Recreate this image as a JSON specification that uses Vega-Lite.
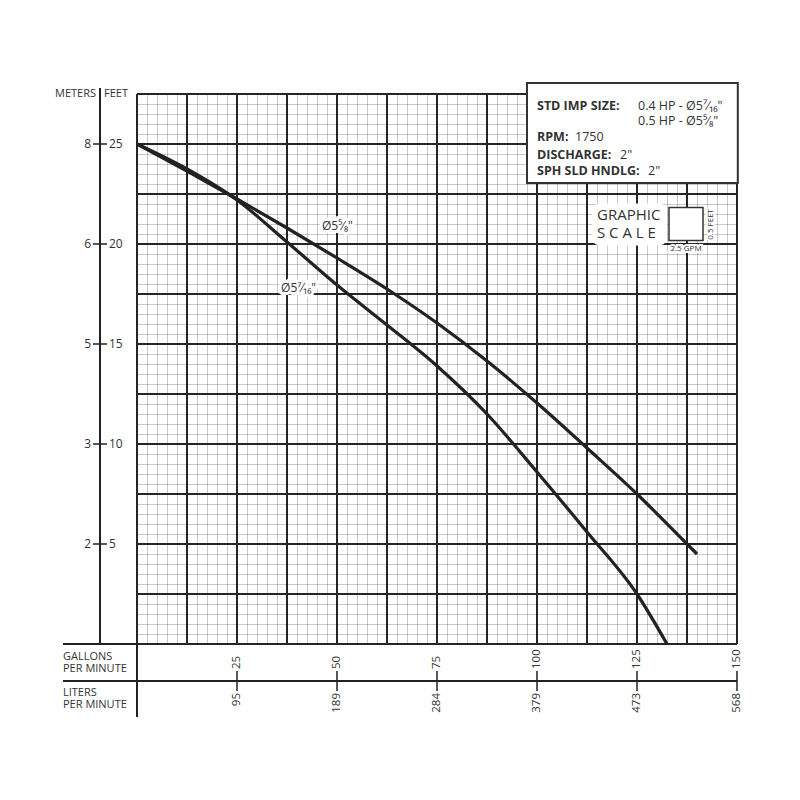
{
  "$schema": "https://vega.github.io/schema/vega-lite/v6.json",
  "width": 600,
  "height": 550,
  "autosize": {"type": "none"},
  "padding": {"left": 137, "top": 94, "right": 63, "bottom": 156},
  "background": "white",
  "config": {
    "view": {"stroke": null},
    "font": "Open Sans, DejaVu Sans",
    "text": {"font": "Open Sans, DejaVu Sans"}
  },
  "datasets": {
    "curves": [
      {"curve": "5 5/8", "gpm": 0, "ft": 25},
      {"curve": "5 5/8", "gpm": 12.5, "ft": 23.65},
      {"curve": "5 5/8", "gpm": 25, "ft": 22.25},
      {"curve": "5 5/8", "gpm": 37.5, "ft": 20.8},
      {"curve": "5 5/8", "gpm": 50, "ft": 19.3},
      {"curve": "5 5/8", "gpm": 62.5, "ft": 17.75},
      {"curve": "5 5/8", "gpm": 75, "ft": 16.05},
      {"curve": "5 5/8", "gpm": 87.5, "ft": 14.15},
      {"curve": "5 5/8", "gpm": 100, "ft": 12.05},
      {"curve": "5 5/8", "gpm": 112.5, "ft": 9.8},
      {"curve": "5 5/8", "gpm": 125, "ft": 7.5},
      {"curve": "5 5/8", "gpm": 137.5, "ft": 5.0},
      {"curve": "5 5/8", "gpm": 140, "ft": 4.5},
      {"curve": "5 7/16", "gpm": 0, "ft": 25},
      {"curve": "5 7/16", "gpm": 12.5, "ft": 23.75},
      {"curve": "5 7/16", "gpm": 25, "ft": 22.2},
      {"curve": "5 7/16", "gpm": 37.5, "ft": 20.1},
      {"curve": "5 7/16", "gpm": 50, "ft": 17.95},
      {"curve": "5 7/16", "gpm": 62.5, "ft": 15.95},
      {"curve": "5 7/16", "gpm": 75, "ft": 13.9},
      {"curve": "5 7/16", "gpm": 87.5, "ft": 11.5},
      {"curve": "5 7/16", "gpm": 100, "ft": 8.6},
      {"curve": "5 7/16", "gpm": 112.5, "ft": 5.6},
      {"curve": "5 7/16", "gpm": 125, "ft": 2.5},
      {"curve": "5 7/16", "gpm": 132.5, "ft": 0}
    ]
  },
  "layer": [
    {
      "data": {"name": "curves"},
      "mark": {"type": "line", "interpolate": "monotone", "color": "#222", "strokeWidth": 3.2},
      "encoding": {
        "x": {"field": "gpm", "type": "quantitative", "scale": {"domain": [0, 150], "nice": false, "zero": false},
          "axis": {"orient": "bottom", "values": [0,2.5,5,7.5,10,12.5,15,17.5,20,22.5,25,27.5,30,32.5,35,37.5,40,42.5,45,47.5,50,52.5,55,57.5,60,62.5,65,67.5,70,72.5,75,77.5,80,82.5,85,87.5,90,92.5,95,97.5,100,102.5,105,107.5,110,112.5,115,117.5,120,122.5,125,127.5,130,132.5,135,137.5,140,142.5,145,147.5,150],
            "grid": true, "gridColor": "#000", "gridOpacity": 0.21, "gridWidth": 1, "labels": false, "ticks": false, "domain": false, "title": null}},
        "y": {"field": "ft", "type": "quantitative", "scale": {"domain": [0, 27.5], "nice": false, "zero": false},
          "axis": {"orient": "left", "values": [0,0.5,1,1.5,2,2.5,3,3.5,4,4.5,5,5.5,6,6.5,7,7.5,8,8.5,9,9.5,10,10.5,11,11.5,12,12.5,13,13.5,14,14.5,15,15.5,16,16.5,17,17.5,18,18.5,19,19.5,20,20.5,21,21.5,22,22.5,23,23.5,24,24.5,25,25.5,26,26.5,27,27.5],
            "grid": true, "gridColor": "#000", "gridOpacity": 0.21, "gridWidth": 1, "labels": false, "ticks": false, "domain": false, "title": null}},
        "detail": {"field": "curve"}
      }
    },
    {
      "data": {"values": [{}]},
      "mark": {"type": "rule", "color": "#222", "strokeWidth": 2},
      "encoding": {
        "x": {"datum": -18.5, "type": "quantitative", "scale": {"domain": [0, 150], "nice": false, "zero": false},
          "axis": {"orient": "bottom", "values": [0,12.5,25,37.5,50,62.5,75,87.5,100,112.5,125,137.5,150], "grid": true, "gridColor": "#262626", "gridWidth": 2, "labels": false, "ticks": false, "domain": false, "title": null, "translate": 0}},
        "x2": {"datum": 0},
        "y": {"datum": 0, "type": "quantitative", "scale": {"domain": [0, 27.5], "nice": false, "zero": false},
          "axis": {"orient": "left", "values": [0,2.5,5,7.5,10,12.5,15,17.5,20,22.5,25,27.5], "grid": true, "gridColor": "#262626", "gridWidth": 2, "labels": false, "ticks": false, "domain": false, "title": null, "translate": 0}}
      }
    },
    {
      "data": {"values": [{}]},
      "mark": {"type": "rule", "color": "#222", "strokeWidth": 2},
      "encoding": {
        "x": {"datum": -18.5, "type": "quantitative", "scale": {"domain": [0, 150], "nice": false, "zero": false},
          "axis": {"orient": "top", "offset": -587, "translate": 0, "values": [25,50,75,100,125,150], "grid": false, "domain": false,
            "ticks": true, "tickSize": 10, "tickWidth": 1.5, "tickColor": "#222",
            "labels": true, "labelAngle": -90, "labelAlign": "left", "labelBaseline": "middle", "labelPadding": 2, "labelFontSize": 11.5, "labelColor": "#333", "labelFont": "Open Sans",
            "title": ["GALLONS", "PER MINUTE"], "titleAngle": 0, "titleX": -74, "titleY": -30, "titleAlign": "left", "titleBaseline": "top", "titleFontSize": 11, "titleFontWeight": "normal", "titleColor": "#333", "titleLineHeight": 12, "titleFont": "Open Sans"}},
        "x2": {"datum": 0},
        "y": {"datum": -1.85, "type": "quantitative", "scale": {"domain": [0, 27.5], "nice": false, "zero": false},
          "axis": {"orient": "left", "offset": 37, "translate": 0, "values": [5,10,15,20,25], "grid": false,
            "domain": true, "domainColor": "#222", "domainWidth": 2,
            "ticks": true, "tickSize": 7, "tickWidth": 1.5, "tickColor": "#222",
            "labels": true, "labelExpr": "datum.value==25?'8':datum.value==20?'6':datum.value==15?'5':datum.value==10?'3':'2'", "labelPadding": 2, "labelFontSize": 12, "labelColor": "#333", "labelFont": "Open Sans",
            "title": "METERS", "titleAngle": 0, "titleX": -4, "titleY": 0, "titleAlign": "right", "titleBaseline": "middle", "titleFontSize": 11, "titleFontWeight": "normal", "titleColor": "#333", "titleFont": "Open Sans"}}
      }
    },
    {
      "data": {"values": [{}]},
      "mark": {"type": "rule", "color": "#222", "strokeWidth": 2},
      "encoding": {
        "x": {"datum": 0, "type": "quantitative", "scale": {"domain": [0, 150], "nice": false, "zero": false},
          "axis": {"orient": "bottom", "offset": 37, "translate": 0, "values": [25,50,75,100,125,150], "grid": false,
            "domain": true, "domainColor": "#222", "domainWidth": 2,
            "ticks": true, "tickSize": 10, "tickWidth": 1.5, "tickColor": "#222",
            "labels": true, "labelExpr": "format(datum.value*3.78541,'.0f')", "labelAngle": -90, "labelAlign": "right", "labelBaseline": "middle", "labelPadding": 2, "labelFontSize": 11.5, "labelColor": "#333", "labelFont": "Open Sans",
            "title": ["LITERS", "PER MINUTE"], "titleAngle": 0, "titleX": -74, "titleY": 6, "titleAlign": "left", "titleBaseline": "top", "titleFontSize": 11, "titleFontWeight": "normal", "titleColor": "#333", "titleLineHeight": 12, "titleFont": "Open Sans"}},
        "y": {"datum": 0, "type": "quantitative", "scale": {"domain": [0, 27.5], "nice": false, "zero": false},
          "axis": {"orient": "right", "offset": -637, "translate": 0, "values": [5,10,15,20,25], "grid": false, "domain": false,
            "ticks": true, "tickSize": 7, "tickWidth": 1.5, "tickColor": "#222",
            "labels": true, "labelPadding": 2, "labelFontSize": 12, "labelColor": "#333", "labelFont": "Open Sans",
            "title": "FEET", "titleAngle": 0, "titleX": 4, "titleY": 0, "titleAlign": "left", "titleBaseline": "middle", "titleFontSize": 11, "titleFontWeight": "normal", "titleColor": "#333", "titleFont": "Open Sans"}},
        "y2": {"datum": -3.65}
      }
    },
    {
      "data": {"values": [{}]},
      "mark": {"type": "rule", "color": "#222", "strokeWidth": 2},
      "encoding": {
        "x": {"datum": -9.25, "type": "quantitative", "scale": {"domain": [0, 150], "nice": false, "zero": false}, "axis": null},
        "y": {"datum": 27.5, "type": "quantitative", "scale": {"domain": [0, 27.5], "nice": false, "zero": false}, "axis": null},
        "y2": {"datum": 27.8}
      }
    },
    {
      "data": {"values": [{}]},
      "mark": {"type": "rect", "fill": "white", "stroke": "#333", "strokeWidth": 2},
      "encoding": {
        "x": {"datum": 97.5, "type": "quantitative", "scale": {"domain": [0, 150], "nice": false, "zero": false}, "axis": null},
        "x2": {"datum": 150.2},
        "y": {"datum": 28.05, "type": "quantitative", "scale": {"domain": [0, 27.5], "nice": false, "zero": false}, "axis": null},
        "y2": {"datum": 23.05}
      }
    },
    {
      "data": {"values": [{}]},
      "mark": {"type": "rect", "fill": "white", "cornerRadius": 8},
      "encoding": {
        "x": {"datum": 113.75, "type": "quantitative", "scale": {"domain": [0, 150], "nice": false, "zero": false}, "axis": null},
        "x2": {"datum": 132.5},
        "y": {"datum": 22.03, "type": "quantitative", "scale": {"domain": [0, 27.5], "nice": false, "zero": false}, "axis": null},
        "y2": {"datum": 19.93}
      }
    },
    {
      "data": {"values": [{}]},
      "mark": {"type": "rect", "fill": "white", "stroke": "#333", "strokeWidth": 1.5},
      "encoding": {
        "x": {"datum": 133, "type": "quantitative", "scale": {"domain": [0, 150], "nice": false, "zero": false}, "axis": null},
        "x2": {"datum": 141.5},
        "y": {"datum": 21.83, "type": "quantitative", "scale": {"domain": [0, 27.5], "nice": false, "zero": false}, "axis": null},
        "y2": {"datum": 20.18}
      }
    },
    {
      "data": {"values": [{"t": "GRAPHIC"}]},
      "mark": {"type": "text", "align": "left", "baseline": "middle", "fontSize": 15, "color": "#333"},
      "encoding": {
        "text": {"field": "t"},
        "x": {"datum": 115, "type": "quantitative", "scale": {"domain": [0, 150], "nice": false, "zero": false}, "axis": null},
        "y": {"datum": 21.45, "type": "quantitative", "scale": {"domain": [0, 27.5], "nice": false, "zero": false}, "axis": null}
      }
    },
    {
      "data": {"values": [{"t": "S C A L E"}]},
      "mark": {"type": "text", "align": "left", "baseline": "middle", "fontSize": 15, "color": "#333"},
      "encoding": {
        "text": {"field": "t"},
        "x": {"datum": 115, "type": "quantitative", "scale": {"domain": [0, 150], "nice": false, "zero": false}, "axis": null},
        "y": {"datum": 20.55, "type": "quantitative", "scale": {"domain": [0, 27.5], "nice": false, "zero": false}, "axis": null}
      }
    },
    {
      "data": {"values": [{"t": "0.5 FEET"}]},
      "mark": {"type": "text", "align": "center", "baseline": "middle", "fontSize": 8, "angle": 270, "color": "white", "stroke": "white", "strokeWidth": 4},
      "encoding": {
        "text": {"field": "t"},
        "x": {"datum": 143.5, "type": "quantitative", "scale": {"domain": [0, 150], "nice": false, "zero": false}, "axis": null},
        "y": {"datum": 20.98, "type": "quantitative", "scale": {"domain": [0, 27.5], "nice": false, "zero": false}, "axis": null}
      }
    },
    {
      "data": {"values": [{"t": "0.5 FEET"}]},
      "mark": {"type": "text", "align": "center", "baseline": "middle", "fontSize": 8, "angle": 270, "color": "#333"},
      "encoding": {
        "text": {"field": "t"},
        "x": {"datum": 143.5, "type": "quantitative", "scale": {"domain": [0, 150], "nice": false, "zero": false}, "axis": null},
        "y": {"datum": 20.98, "type": "quantitative", "scale": {"domain": [0, 27.5], "nice": false, "zero": false}, "axis": null}
      }
    },
    {
      "data": {"values": [{"t": "2.5 GPM"}]},
      "mark": {"type": "text", "align": "center", "baseline": "middle", "fontSize": 8, "color": "white", "stroke": "white", "strokeWidth": 4},
      "encoding": {
        "text": {"field": "t"},
        "x": {"datum": 137.25, "type": "quantitative", "scale": {"domain": [0, 150], "nice": false, "zero": false}, "axis": null},
        "y": {"datum": 19.73, "type": "quantitative", "scale": {"domain": [0, 27.5], "nice": false, "zero": false}, "axis": null}
      }
    },
    {
      "data": {"values": [{"t": "2.5 GPM"}]},
      "mark": {"type": "text", "align": "center", "baseline": "middle", "fontSize": 8, "color": "#333"},
      "encoding": {
        "text": {"field": "t"},
        "x": {"datum": 137.25, "type": "quantitative", "scale": {"domain": [0, 150], "nice": false, "zero": false}, "axis": null},
        "y": {"datum": 19.73, "type": "quantitative", "scale": {"domain": [0, 27.5], "nice": false, "zero": false}, "axis": null}
      }
    },
    {
      "data": {"values": [{"t": "Ø5⁵⁄₈\""}]},
      "mark": {"type": "text", "align": "center", "baseline": "middle", "fontSize": 12, "color": "white", "stroke": "white", "strokeWidth": 6},
      "encoding": {
        "text": {"field": "t"},
        "x": {"datum": 50.1, "type": "quantitative", "scale": {"domain": [0, 150], "nice": false, "zero": false}, "axis": null},
        "y": {"datum": 20.9, "type": "quantitative", "scale": {"domain": [0, 27.5], "nice": false, "zero": false}, "axis": null}
      }
    },
    {
      "data": {"values": [{"t": "Ø5⁵⁄₈\""}]},
      "mark": {"type": "text", "align": "center", "baseline": "middle", "fontSize": 12, "color": "#333"},
      "encoding": {
        "text": {"field": "t"},
        "x": {"datum": 50.1, "type": "quantitative", "scale": {"domain": [0, 150], "nice": false, "zero": false}, "axis": null},
        "y": {"datum": 20.9, "type": "quantitative", "scale": {"domain": [0, 27.5], "nice": false, "zero": false}, "axis": null}
      }
    },
    {
      "data": {"values": [{"t": "Ø5⁷⁄₁₆\""}]},
      "mark": {"type": "text", "align": "center", "baseline": "middle", "fontSize": 12, "color": "white", "stroke": "white", "strokeWidth": 6},
      "encoding": {
        "text": {"field": "t"},
        "x": {"datum": 40.4, "type": "quantitative", "scale": {"domain": [0, 150], "nice": false, "zero": false}, "axis": null},
        "y": {"datum": 17.8, "type": "quantitative", "scale": {"domain": [0, 27.5], "nice": false, "zero": false}, "axis": null}
      }
    },
    {
      "data": {"values": [{"t": "Ø5⁷⁄₁₆\""}]},
      "mark": {"type": "text", "align": "center", "baseline": "middle", "fontSize": 12, "color": "#333"},
      "encoding": {
        "text": {"field": "t"},
        "x": {"datum": 40.4, "type": "quantitative", "scale": {"domain": [0, 150], "nice": false, "zero": false}, "axis": null},
        "y": {"datum": 17.8, "type": "quantitative", "scale": {"domain": [0, 27.5], "nice": false, "zero": false}, "axis": null}
      }
    },
    {
      "data": {"values": [{"t": "STD IMP SIZE:"}]},
      "mark": {"type": "text", "align": "left", "baseline": "alphabetic", "fontSize": 12.5, "fontWeight": "bold", "color": "#333"},
      "encoding": {
        "text": {"field": "t"},
        "x": {"datum": 100, "type": "quantitative", "scale": {"domain": [0, 150], "nice": false, "zero": false}, "axis": null},
        "y": {"datum": 26.7, "type": "quantitative", "scale": {"domain": [0, 27.5], "nice": false, "zero": false}, "axis": null}
      }
    },
    {
      "data": {"values": [{"t": "0.4 HP - Ø5⁷⁄₁₆\""}]},
      "mark": {"type": "text", "align": "left", "baseline": "alphabetic", "fontSize": 12.5, "color": "#333"},
      "encoding": {
        "text": {"field": "t"},
        "x": {"datum": 125.25, "type": "quantitative", "scale": {"domain": [0, 150], "nice": false, "zero": false}, "axis": null},
        "y": {"datum": 26.7, "type": "quantitative", "scale": {"domain": [0, 27.5], "nice": false, "zero": false}, "axis": null}
      }
    },
    {
      "data": {"values": [{"t": "0.5 HP - Ø5⁵⁄₈\""}]},
      "mark": {"type": "text", "align": "left", "baseline": "alphabetic", "fontSize": 12.5, "color": "#333"},
      "encoding": {
        "text": {"field": "t"},
        "x": {"datum": 125.25, "type": "quantitative", "scale": {"domain": [0, 150], "nice": false, "zero": false}, "axis": null},
        "y": {"datum": 25.95, "type": "quantitative", "scale": {"domain": [0, 27.5], "nice": false, "zero": false}, "axis": null}
      }
    },
    {
      "data": {"values": [{"t": "RPM:"}]},
      "mark": {"type": "text", "align": "left", "baseline": "alphabetic", "fontSize": 12.5, "fontWeight": "bold", "color": "#333"},
      "encoding": {
        "text": {"field": "t"},
        "x": {"datum": 100, "type": "quantitative", "scale": {"domain": [0, 150], "nice": false, "zero": false}, "axis": null},
        "y": {"datum": 25.15, "type": "quantitative", "scale": {"domain": [0, 27.5], "nice": false, "zero": false}, "axis": null}
      }
    },
    {
      "data": {"values": [{"t": "1750"}]},
      "mark": {"type": "text", "align": "left", "baseline": "alphabetic", "fontSize": 12.5, "color": "#333"},
      "encoding": {
        "text": {"field": "t"},
        "x": {"datum": 109.5, "type": "quantitative", "scale": {"domain": [0, 150], "nice": false, "zero": false}, "axis": null},
        "y": {"datum": 25.15, "type": "quantitative", "scale": {"domain": [0, 27.5], "nice": false, "zero": false}, "axis": null}
      }
    },
    {
      "data": {"values": [{"t": "DISCHARGE:"}]},
      "mark": {"type": "text", "align": "left", "baseline": "alphabetic", "fontSize": 12.5, "fontWeight": "bold", "color": "#333"},
      "encoding": {
        "text": {"field": "t"},
        "x": {"datum": 100, "type": "quantitative", "scale": {"domain": [0, 150], "nice": false, "zero": false}, "axis": null},
        "y": {"datum": 24.275, "type": "quantitative", "scale": {"domain": [0, 27.5], "nice": false, "zero": false}, "axis": null}
      }
    },
    {
      "data": {"values": [{"t": "2\""}]},
      "mark": {"type": "text", "align": "left", "baseline": "alphabetic", "fontSize": 12.5, "color": "#333"},
      "encoding": {
        "text": {"field": "t"},
        "x": {"datum": 120.75, "type": "quantitative", "scale": {"domain": [0, 150], "nice": false, "zero": false}, "axis": null},
        "y": {"datum": 24.275, "type": "quantitative", "scale": {"domain": [0, 27.5], "nice": false, "zero": false}, "axis": null}
      }
    },
    {
      "data": {"values": [{"t": "SPH SLD HNDLG:"}]},
      "mark": {"type": "text", "align": "left", "baseline": "alphabetic", "fontSize": 12.5, "fontWeight": "bold", "color": "#333"},
      "encoding": {
        "text": {"field": "t"},
        "x": {"datum": 100, "type": "quantitative", "scale": {"domain": [0, 150], "nice": false, "zero": false}, "axis": null},
        "y": {"datum": 23.475, "type": "quantitative", "scale": {"domain": [0, 27.5], "nice": false, "zero": false}, "axis": null}
      }
    },
    {
      "data": {"values": [{"t": "2\""}]},
      "mark": {"type": "text", "align": "left", "baseline": "alphabetic", "fontSize": 12.5, "color": "#333"},
      "encoding": {
        "text": {"field": "t"},
        "x": {"datum": 127.75, "type": "quantitative", "scale": {"domain": [0, 150], "nice": false, "zero": false}, "axis": null},
        "y": {"datum": 23.475, "type": "quantitative", "scale": {"domain": [0, 27.5], "nice": false, "zero": false}, "axis": null}
      }
    }
  ],
  "resolve": {"axis": {"x": "independent", "y": "independent"}}
}
